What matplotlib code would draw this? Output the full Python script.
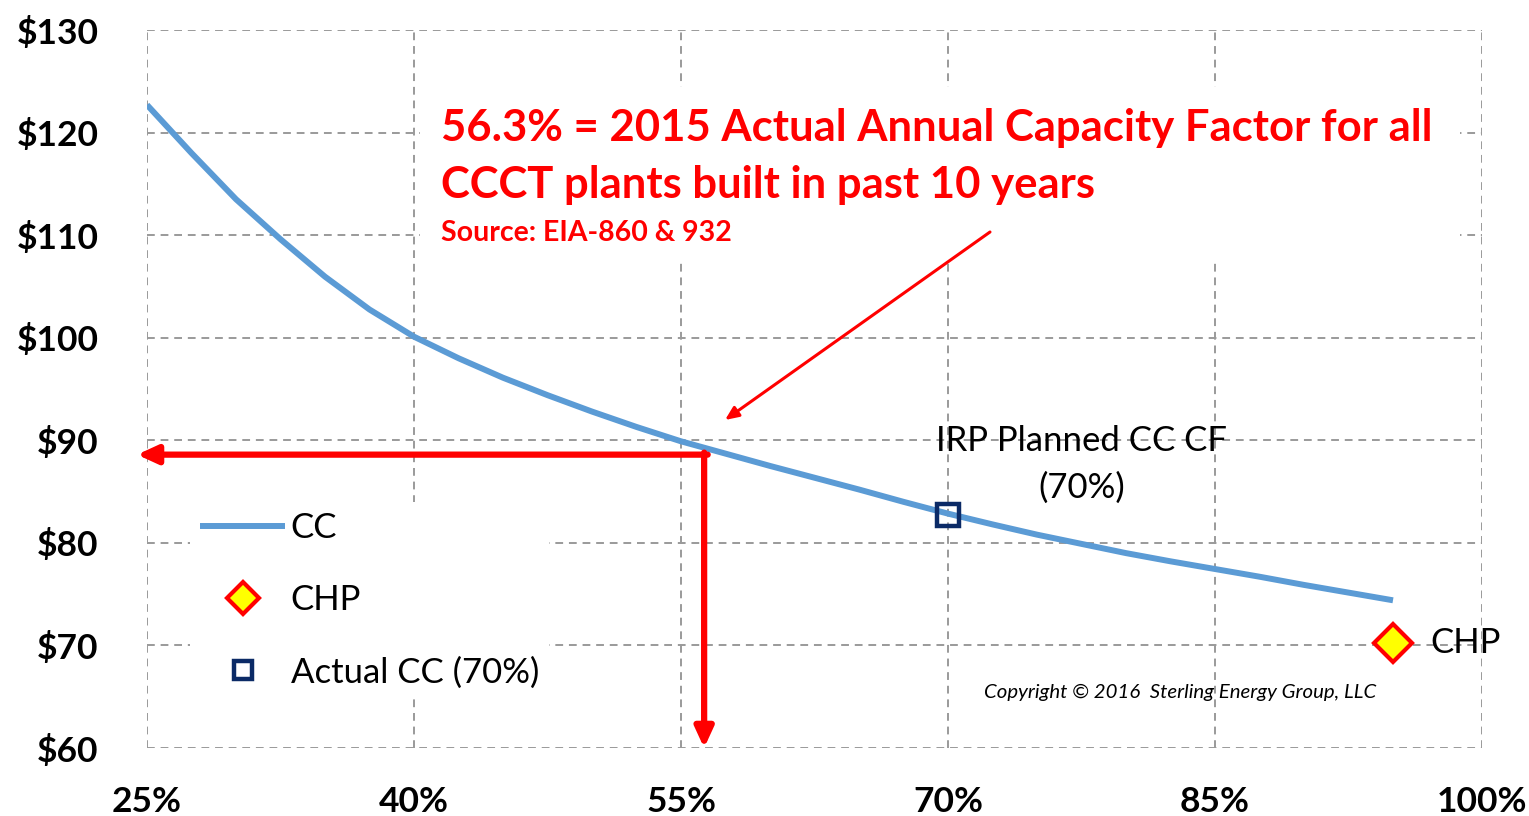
import matplotlib
matplotlib.use("Agg")
import matplotlib.pyplot as plt
from matplotlib.patches import Rectangle

plt.rcParams['font.family'] = ['Lato', 'DejaVu Sans']

# ---- data ----
cf_pct = [25, 27.5, 30, 32.5, 35, 37.5, 40, 42.5, 45, 47.5, 50, 52.5, 55, 57.5, 60,
          62.5, 65, 67.5, 70, 72.5, 75, 77.5, 80, 82.5, 85, 87.5, 90, 92.5, 95]
cc_cost = [122.7, 118.0, 113.5, 109.6, 105.95, 102.75, 100.1, 98.0, 96.1, 94.4, 92.8,
           91.3, 89.9, 88.7, 87.5, 86.35, 85.2, 84.0, 82.85, 81.8, 80.8, 79.9, 79.0, 78.2,
           77.45, 76.7, 75.9, 75.15, 74.4]
chp_x = [95]
chp_y = [70.2]
actual_cc_x = [70]
actual_cc_y = [82.7]
marker_cf = 56.3
marker_cost = 88.6
x_ticks = [25, 40, 55, 70, 85, 100]
x_tick_labels = ['25%', '40%', '55%', '70%', '85%', '100%']
y_ticks = [60, 70, 80, 90, 100, 110, 120, 130]
y_tick_labels = ['$60', '$70', '$80', '$90', '$100', '$110', '$120', '$130']

W, H = 1529, 816
fig = plt.figure(figsize=(W / 100, H / 100), dpi=100)
ax = fig.add_axes([147 / W, 1 - 748 / H, (1482 - 147) / W, (748 - 30) / H])
ax.set_xlim(25, 100)
ax.set_ylim(60, 130)

for s in ax.spines.values():
    s.set_visible(False)
ax.set_xticks(x_ticks)
ax.set_xticklabels(x_tick_labels)
ax.set_yticks(y_ticks)
ax.set_yticklabels(y_tick_labels)
ax.tick_params(length=0, labelsize=25.5)
ax.tick_params(axis='y', pad=35)
ax.tick_params(axis='x', pad=27)
for lab in ax.get_xticklabels() + ax.get_yticklabels():
    lab.set_fontweight('bold')
ax.grid(True, color='#9a9a9a', linestyle=(0, (4, 3)), linewidth=1.4)
ax.set_axisbelow(True)

def px2data(px, py):
    return 25 + (px - 147) * 75 / 1335, 130 - (py - 30) * 70 / 718

# white box behind the red annotation text
x0, y0 = px2data(420, 258)
x1, y1 = px2data(1460, 87)
ax.add_patch(Rectangle((x0, y0), x1 - x0, y1 - y0, facecolor='white',
                       edgecolor='none', zorder=1.5))

# data series
ax.plot(cf_pct, cc_cost, color='#5B9BD5', linewidth=4.3, solid_capstyle='butt',
        solid_joinstyle='round', zorder=3, label='CC')
ax.plot(chp_x, chp_y, linestyle='none', marker='D', markersize=19,
        markerfacecolor='#FFFF00', markeredgecolor='#FF0000', markeredgewidth=3,
        zorder=4, label='CHP')
ax.plot(actual_cc_x, actual_cc_y, linestyle='none', marker='s', markersize=16,
        markerfacecolor='none', markeredgecolor='#0B2A66', markeredgewidth=3.2,
        zorder=4, label='Actual CC (70%)')

# red arrows
ax.annotate('', xy=(px2data(137, 0)[0], marker_cost), xytext=(marker_cf + 0.2, marker_cost),
            arrowprops=dict(arrowstyle='-|>,head_length=1.2,head_width=0.55',
                            color='#FF0000', lw=4.5, shrinkA=0, shrinkB=0),
            annotation_clip=False, zorder=5)
ax.annotate('', xy=(marker_cf, 60), xytext=(marker_cf, marker_cost + 0.2),
            arrowprops=dict(arrowstyle='-|>,head_length=1.2,head_width=0.55',
                            color='#FF0000', lw=4.5, shrinkA=0, shrinkB=0),
            annotation_clip=False, zorder=5)
ax.annotate('', xy=px2data(725, 420), xytext=px2data(990, 232),
            arrowprops=dict(arrowstyle='-|>,head_length=0.8,head_width=0.35',
                            color='#FF0000', lw=2.2, shrinkA=0, shrinkB=0),
            zorder=5)

# red text
tx, ty = px2data(441, 128)
ax.text(tx, ty, '56.3% = 2015 Actual Annual Capacity Factor for all', color='#FF0000',
        fontsize=31.4, fontweight='bold', ha='left', va='center', zorder=6)
tx, ty = px2data(441, 185)
ax.text(tx, ty, 'CCCT plants built in past 10 years', color='#FF0000',
        fontsize=31.4, fontweight='bold', ha='left', va='center', zorder=6)
tx, ty = px2data(441, 233)
ax.text(tx, ty, 'Source: EIA-860 & 932', color='#FF0000',
        fontsize=20.5, fontweight='bold', ha='left', va='center', zorder=6)

# other annotations
tx, ty = px2data(1082, 441)
ax.text(tx, ty, 'IRP Planned CC CF', color='black', fontsize=25,
        ha='center', va='center', zorder=6)
tx, ty = px2data(1082, 488)
ax.text(tx, ty, '(70%)', color='black', fontsize=25,
        ha='center', va='center', zorder=6)
tx, ty = px2data(1430, 643)
ax.text(tx, ty, 'CHP', color='black', fontsize=25, ha='left', va='center', zorder=6)
tx, ty = px2data(984, 692)
ax.text(tx, ty, 'Copyright \u00a9 2016  Sterling Energy Group, LLC', color='black',
        fontsize=14.7, style='italic', ha='left', va='center', zorder=6)

# legend
leg = ax.legend(loc='upper left', bbox_to_anchor=(190 / W, 1 - 502 / H),
                bbox_transform=fig.transFigure, frameon=True, fontsize=25,
                handlelength=2.45, handletextpad=0.15, labelspacing=1.15,
                borderpad=0.3, borderaxespad=0, markerscale=0.85)
leg.get_frame().set_facecolor('white')
leg.get_frame().set_edgecolor('none')
leg.get_frame().set_alpha(1)

fig.savefig('out.png', dpi=100)
